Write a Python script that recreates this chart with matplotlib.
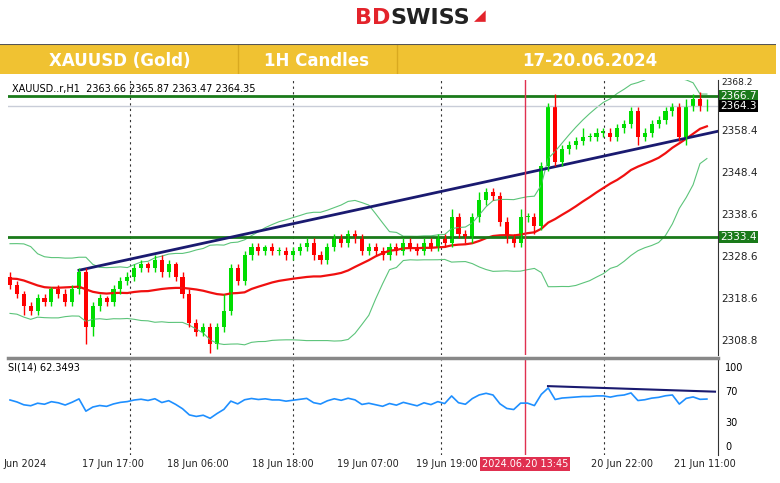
import matplotlib.pyplot as plt
import numpy as np
import pandas as pd

# hourly closes (first candle 17 Jun ~08:00)
closes = [2322, 2320, 2317, 2316, 2319, 2318, 2321, 2320, 2318, 2321,
          2325, 2312, 2317, 2319, 2318, 2321, 2323, 2324, 2326, 2327,
          2326, 2328, 2325, 2327, 2324, 2320, 2313, 2311, 2312, 2308,
          2312, 2316, 2326, 2323, 2329, 2331, 2330, 2331, 2330, 2330,
          2329, 2330, 2331, 2332, 2329, 2328, 2331, 2333, 2332, 2334,
          2333, 2330, 2331, 2330, 2329, 2331, 2330, 2332, 2331, 2330,
          2332, 2331, 2333, 2332, 2338, 2334, 2333, 2338, 2342, 2344,
          2343, 2337, 2333, 2332, 2338, 2338, 2336, 2350, 2364, 2351,
          2354, 2355, 2356, 2357, 2357, 2358, 2358, 2357, 2359, 2360,
          2363, 2357, 2358, 2360, 2361, 2363, 2364, 2357, 2364, 2366,
          2364, 2364.35]
first_open = 2324
up_wick = [1, 1, 0.5, 1, 1, 1, 0.5, 1, 1, 1,
           1, 1, 1, 1, 0.5, 1, 1, 1, 1, 1,
           0.5, 1, 1, 1, 0.5, 1, 1, 1, 1, 1,
           1, 4, 1, 1, 1, 1, 1, 0.5, 1, 1,
           1, 1, 1, 1, 1, 1, 1, 1, 1, 1,
           1, 1, 1, 1, 1, 1, 1, 1, 1, 1,
           1, 1, 1, 1, 2, 1, 1, 1, 2, 1,
           1, 1, 1, 1, 2, 1, 1, 1, 1, 3,
           1, 1, 1, 2, 1, 1, 1, 1, 1, 1,
           1, 1, 1, 1, 1, 1, 1, 1, 2, 1,
           1.5, 1.5]
dn_wick = [1, 1, 2, 1, 1, 1, 1, 1, 1, 1,
           1, 4, 2, 1, 1, 1, 1, 1, 1, 1,
           1, 1, 1, 1, 1, 1, 1, 1, 1, 2,
           1, 1, 1, 1, 1, 1, 1, 1, 1, 1,
           1, 1, 1, 1, 1, 1, 1, 1, 1, 1,
           1, 1, 1, 1, 1, 1, 1, 1, 1, 1,
           1, 1, 1, 1, 1, 1, 1, 1, 1, 1,
           1, 1, 1, 1, 1, 1, 2, 1, 1, 1,
           1, 1, 1, 1, 1, 1, 1, 1, 1, 1,
           1, 2, 1, 1, 1, 1, 1, 1, 2, 1,
           1, 1]
# closes before the visible window (warm-up for the indicators)
warmup = [2318, 2322, 2326, 2330, 2333, 2328, 2324, 2320, 2316, 2319,
          2323, 2327, 2331, 2326, 2321, 2318, 2322, 2325, 2320, 2323,
          2325, 2322, 2319, 2323]

price_ticks = [2358.4, 2348.4, 2338.6, 2328.6, 2318.6, 2308.8]
top_tick = 2368.2
resist, support, last_px = 2366.7, 2333.4, 2364.3
time_labels = ["Jun 2024", "17 Jun 17:00", "18 Jun 06:00", "18 Jun 18:00",
               "19 Jun 07:00", "19 Jun 19:00", "2024.06.20 13:45",
               "20 Jun 22:00", "21 Jun 11:00"]
label_px = [25, 113, 198, 283, 368, 447, 525, 622, 705]
grid_px = [130, 293, 441, 604]
cursor_px = 525

W, H = 780, 483
def ix(px):
    return (px - 10) / 6.9

c = np.array(closes, float)
o = np.concatenate([[first_open], c[:-1]])
hi = np.maximum(o, c) + np.array(up_wick)
lo = np.minimum(o, c) - np.array(dn_wick)
n = len(c)
idx = np.arange(n)

full = pd.Series(warmup + closes, dtype=float)
ma = full.rolling(24).mean().values[len(warmup):]
sd = full.rolling(24).std(ddof=0).values[len(warmup):]
d = full.diff()
g = d.clip(lower=0).ewm(alpha=1/14, adjust=False).mean()
l = (-d.clip(upper=0)).ewm(alpha=1/14, adjust=False).mean()
rsi = (100 - 100 / (1 + g / l)).values[len(warmup):]

fig = plt.figure(figsize=(W/100, H/100), dpi=100)

# logo
fig.text(0.5, 1 - 18/H, "BD", color="#e3232b", fontsize=16, fontweight="bold", ha="right", va="center")
fig.text(0.5, 1 - 18/H, "SWISS", color="#222222", fontsize=16, fontweight="bold", ha="left", va="center")
fig.text(0.5 + 90/W, 1 - 16/H, "\u25e2", color="#e3232b", fontsize=11, ha="center", va="center")

# header bar
hdr = fig.add_axes([0, 1 - 74/H, 776/W, 30/H])
hdr.set_xlim(0, 776); hdr.set_ylim(0, 1); hdr.axis("off")
hdr.axhspan(0, 1, color="#f0c232")
for sx in [238, 397]:
    hdr.axvline(sx, color="#d9a920", lw=1)
hdr.axhline(1, color="#555555", lw=1.5)
for tx, t in zip([120, 316, 590], ["XAUUSD (Gold)", "1H Candles", "17-20.06.2024"]):
    hdr.text(tx, 0.45, t, color="white", fontsize=12, fontweight="bold", ha="center", va="center")

# price panel
ax = fig.add_axes([8/W, 1 - 355/H, 710/W, 275/H])
ax.set_xlim(ix(8), ix(718))
ax.set_ylim(2305.5, 2370.4)
for gx in grid_px:
    ax.axvline(ix(gx), color="#333333", lw=0.8, ls=(0, (2, 3)))
ax.plot(idx, ma + 2*sd, color="#5cc47a", lw=0.8)
ax.plot(idx, ma - 2*sd, color="#5cc47a", lw=0.8)
ax.plot(idx, ma, color="#f01010", lw=1.6)
ax.axhline(last_px, color="#c9cdd8", lw=1)
ax.axhline(resist, color="#1a7a1a", lw=2)
ax.axhline(support, color="#1a7a1a", lw=2)
ax.plot([10, n + 2], [2325.5, 2358.8], color="#1a1a70", lw=2)
ax.axvline(ix(cursor_px), color="#e03050", lw=1)
col = np.where(c >= o, "#00dd00", "#ff0000")
ax.vlines(idx, lo, hi, color=col, lw=1)
ax.bar(idx, np.maximum(np.abs(c - o), 0.3), bottom=np.minimum(o, c), width=0.6, color=col)
ax.set_xticks([]); ax.set_yticks([])
for s in ["top", "left", "bottom"]:
    ax.spines[s].set_visible(False)
ax.spines["right"].set_color("#333333")
ax.text(0.005, 0.985, "XAUUSD..r,H1  2363.66 2365.87 2363.47 2364.35", transform=ax.transAxes,
        fontsize=7, va="top", ha="left")
for p in price_ticks:
    ax.text(1.005, p, f"{p:.1f}", transform=ax.get_yaxis_transform(), fontsize=7.5, va="center", ha="left", color="#222222")
ax.text(1.005, top_tick + 1.6, f"{top_tick:.1f}", transform=ax.get_yaxis_transform(), fontsize=6.5,
        va="center", ha="left", color="#222222")
for p, bg in [(resist, "#1a7a1a"), (last_px, "black"), (support, "#1a7a1a")]:
    ax.text(1.003, p, f"{p:.1f}", transform=ax.get_yaxis_transform(), fontsize=7.5, va="center", ha="left",
            color="white", bbox=dict(boxstyle="square,pad=0.1", fc=bg, ec="none"))

# RSI panel
ar = fig.add_axes([8/W, 1 - 455/H, 710/W, 95/H])
ar.set_xlim(ix(8), ix(718))
ar.set_ylim(-10, 110)
for gx in grid_px:
    ar.axvline(ix(gx), color="#333333", lw=0.8, ls=(0, (2, 3)))
ar.axvline(ix(cursor_px), color="#e03050", lw=1)
ar.plot(idx, rsi, color="#1e8fff", lw=1.2)
ar.plot([ix(548), ix(715)], [77, 70], color="#1a1a70", lw=1.5)
ar.set_xticks([]); ar.set_yticks([])
for s in ["top", "left", "bottom"]:
    ar.spines[s].set_visible(False)
ar.spines["right"].set_color("#333333")
ar.text(0.0, 0.97, "SI(14) 62.3493", transform=ar.transAxes, fontsize=7, va="top")
for v in [100, 70, 30, 0]:
    ar.text(1.01, v, str(v), transform=ar.get_yaxis_transform(), fontsize=7, va="center")
fig.add_artist(plt.Line2D([8/W, 718/W], [1 - 358/H]*2, color="#888888", lw=2.5))

for px, t in zip(label_px, time_labels):
    if t.startswith("2024"):
        fig.text(px/W, 1 - 464/H, t, fontsize=7, ha="center", va="center", color="white",
                 bbox=dict(boxstyle="square,pad=0.2", fc="#e03050", ec="none"))
    else:
        fig.text(px/W, 1 - 464/H, t, fontsize=7, ha="center", va="center", color="#222222")

fig.savefig("out.png", dpi=100)
